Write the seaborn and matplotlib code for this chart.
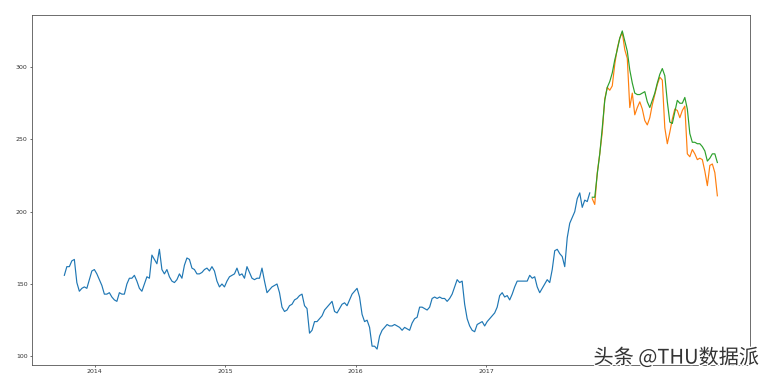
import pandas as pd
import seaborn as sns
import matplotlib.pyplot as plt
import matplotlib.patheffects as pe

# weekly closing prices
train_close = [
    156, 162, 162, 166, 167, 151, 145, 147, 148, 147,
    153, 159, 160, 157, 153, 149, 143, 143, 144, 141,
    139, 138, 144, 143, 143, 150, 154, 154, 156, 152,
    147, 145, 150, 155, 154, 170, 167, 164, 174, 160,
    157, 160, 155, 152, 151, 153, 157, 154, 163, 168,
    167, 161, 160, 157, 157, 158, 160, 161, 159, 162,
    159, 152, 148, 150, 148, 152, 155, 156, 157, 161,
    156, 157, 154, 162, 158, 154, 153, 154, 154, 161,
    152, 144, 146, 148, 149, 150, 144, 134, 131, 132,
    135, 136, 139, 140, 142, 143, 135, 133, 116, 118,
    124, 124, 126, 128, 132, 134, 136, 138, 131, 130,
    133, 136, 137, 135, 139, 143, 145, 147, 141, 129,
    124, 125, 120, 107, 107, 105, 114, 118, 120, 122,
    121, 121, 122, 121, 120, 118, 120, 119, 118, 123,
    126, 127, 134, 134, 133, 132, 134, 140, 141, 140,
    141, 140, 140, 138, 140, 143, 148, 153, 151, 152,
    136, 126, 121, 118, 117, 122, 123, 124, 121, 124,
    126, 128, 130, 134, 142, 144, 141, 142, 139, 143,
    148, 152, 152, 152, 152, 152, 156, 154, 155, 148,
    144, 147, 150, 153, 151, 160, 173, 174, 171, 169,
    162, 182, 192, 196, 200, 209, 213, 203, 208, 207,
    213,
]

valid_close = [
    209, 205, 227, 240, 255, 278, 286, 284, 287, 302,
    313, 320, 324, 312, 306, 272, 282, 267, 272, 276,
    271, 263, 260, 265, 274, 281, 288, 293, 291, 258,
    247, 255, 264, 271, 270, 265, 270, 273, 240, 238,
    243, 240, 236, 237, 236, 228, 218, 232, 233, 227,
    211,
]

predictions = [
    210, 210, 226, 240, 258, 277, 286, 290, 296, 305,
    312, 320, 325, 318, 311, 298, 289, 282, 281, 281,
    282, 283, 276, 272, 277, 282, 289, 295, 299, 294,
    276, 262, 261, 269, 277, 275, 275, 279, 271, 254,
    248, 248, 247, 247, 245, 242, 235, 237, 240, 240,
    234,
]

dates = pd.date_range("2013-10-08", periods=len(train_close) + len(valid_close), freq="7D")
train = pd.DataFrame({"Date": dates[:len(train_close)], "Close": train_close})
valid = pd.DataFrame({"Date": dates[len(train_close):], "Close": valid_close,
                      "Predictions": predictions})

plt.rcParams.update({"font.size": 4.5})

fig = plt.figure(figsize=(7.69, 3.88), dpi=100)
ax = fig.add_axes([0.0412, 0.0593, 0.9341, 0.902])

sns.lineplot(data=train, x="Date", y="Close", ax=ax, color="#1f77b4", linewidth=0.85)
sns.lineplot(data=valid, x="Date", y="Close", ax=ax, color="#ff7f0e", linewidth=0.85)
sns.lineplot(data=valid, x="Date", y="Predictions", ax=ax, color="#2ca02c", linewidth=0.85)

ax.set_xlabel("")
ax.set_ylabel("")
ax.set_yticks([100, 150, 200, 250, 300])
ax.set_xticks(pd.to_datetime(["2014-01-01", "2015-01-01", "2016-01-01", "2017-01-01"]))
ax.set_xticklabels(["2014", "2015", "2016", "2017"])
ax.tick_params(length=1.5, width=0.5, pad=1.5, colors="#333333")
for s in ax.spines.values():
    s.set_linewidth(0.6)
    s.set_color("#555555")

fig.text(0.987, 0.05, "头条 @THU数据派", ha="right", va="bottom", fontsize=14.5,
         color="#333333", family=["Noto Sans CJK SC", "DejaVu Sans"],
         path_effects=[pe.withStroke(linewidth=2, foreground="white")])

plt.savefig("out.png", dpi=100)
